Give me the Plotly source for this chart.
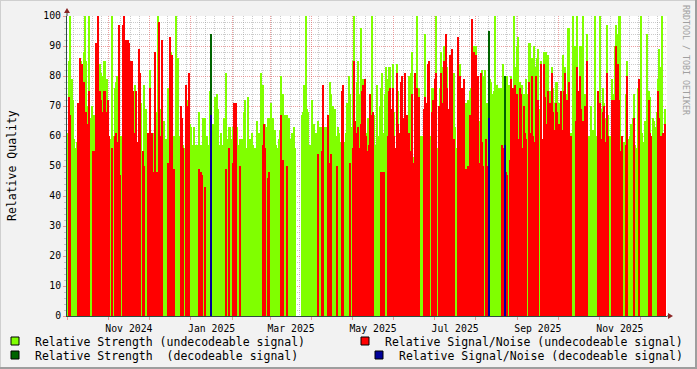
import pandas as pd
import plotly.graph_objects as go

# ---------------- data (one value per day, starting 2024-10-01) ----------------
START = "2024-10-01"
AXIS_DAYS = 446

# Relative Strength (undecodeable signal); None = no data
strength_undecodeable = [
    61, 85, 100, 79, 72, 59, 56, 58, 60, 70,
    85, 70, 88, 100, 85, 70, 100, 66, 70, 67,
    67, 67, 84, 60, 84, 81, 80, 85, 85, 79,
    70, 58, 59, 100, 60, 76, 78, 80, 80, 60,
    60, 60, 60, 60, 60, 92, 60, 77, 66, 60,
    77, 60, 58, 61, 60, 71, 50, 77, 69, 58,
    61, 82, 61, 61, 61, 60, 68, 100, 69, 69,
    60, 58, 65, 59, 58, 76, 76, 88, 60, 60,
    60, 100, 86, 60, 59, 66, 57, 56, 71, 72,
    60, 64, 63, 57, 63, 57, 57, 57, 68, 57,
    57, 66, 66, 56, 60, 57, 75, None, 64, 56,
    73, 74, 69, 57, 61, 57, 66, 57, 81, 59,
    63, 63, 59, 63, 71, 71, 63, 57, 59, 59,
    59, 68, 72, 56, 73, 57, 59, 61, 57, 56,
    56, 65, 61, 59, 81, 77, 64, 64, 63, 66,
    66, 71, 66, 66, 62, 57, 56, 59, 62, 80,
    74, 57, 67, 67, 56, 66, 59, 61, 63, 56,
    None, None, None, None, 67, 68, 77, 100, 69, 68,
    57, 56, 72, 64, 57, 61, 65, 61, 63, 63,
    68, 63, 63, 63, 67, 78, 74, 70, 63, 69,
    60, 63, 61, 58, 75, 77, 58, 61, 71, 80,
    74, 63, 85, 100, 61, 78, 85, 74, 96, 75,
    79, 61, 61, 66, 61, 57, 100, 67, 67, 57,
    77, 60, 70, 76, 81, 61, 74, 83, 79, 83,
    83, 68, 84, 68, 54, 84, 75, 61, 75, 76,
    50, 81, 56, 55, 80, 81, 88, 53, 54, 68,
    100, 76, 60, 60, 60, 69, 94, 71, 76, 68,
    60, 76, 76, 73, 100, 56, 50, 76, 88, 83,
    90, 70, 83, 50, 72, 76, 75, 81, 63, 56,
    56, 83, 84, 76, 72, 71, 71, 59, 72, 75,
    76, 90, 90, 63, 90, 54, 65, 60, 82, 80,
    82, 63, 71, None, 79, 78, 74, 75, 100, 77,
    71, 76, 76, 76, 84, None, 77, 80, 77, 74,
    80, 74, 100, 83, 90, 93, 78, 75, 77, 74,
    70, 79, 74, 91, 91, 86, 83, 90, 83, 86,
    89, 69, 85, 58, 88, 61, 88, 87, 72, 75,
    83, 76, 71, 78, 78, 71, 68, 75, 87, 77,
    83, 74, 96, 96, 61, 59, 100, 90, 73, 100,
    70, 90, 90, 100, 73, 74, 94, 60, 60, 70,
    62, 62, 100, 60, 74, 62, 100, 69, 76, 71,
    66, 97, 67, 60, 60, 79, 74, 90, 97, 94,
    100, 100, 60, 58, 58, 74, 85, 59, 60, 64,
    66, 74, 57, 56, 76, 60, 100, 61, 58, 65,
    65, 94, 75, 73, 58, 66, 65, 63, 68, 79,
    89, 83, 100, 61, 69,
]

# Relative Signal/Noise (undecodeable signal)
snr_undecodeable = [
    0, 73, 67, 0, 0, 0, 0, 0, 71, 86,
    80, 84, 78, 62, 68, 64, 75, 0, 0, 55,
    55, 91, 78, 100, 75, 72, 68, 75, 75, 68,
    72, 60, 0, 56, 0, 60, 61, 58, 97, 47,
    0, 97, 100, 92, 92, 92, 91, 85, 85, 75,
    61, 75, 58, 89, 81, 0, 55, 50, 0, 0,
    61, 76, 61, 61, 48, 88, 48, 48, 98, 60,
    92, 0, 0, 0, 0, 51, 93, 76, 87, 49,
    0, 0, 0, 0, 70, 66, 56, 0, 77, 70,
    81, 0, 0, 0, 0, 0, 0, 0, 49, 48,
    47, 0, 43, 0, 0, 0, 0, None, 0, 0,
    0, 0, 0, 0, 0, 0, 0, 0, 49, 0,
    56, 0, 0, 51, 71, 71, 0, 0, 50, 0,
    0, 0, 0, 0, 0, 0, 0, 0, 0, 0,
    0, 0, 0, 0, 0, 57, 64, 56, 0, 46,
    48, 0, 0, 0, 0, 0, 0, 0, 0, 67,
    52, 0, 0, 50, 0, 0, 0, 0, 0, 0,
    None, None, None, None, 0, 0, 0, 0, 0, 0,
    0, 0, 0, 0, 0, 0, 54, 0, 0, 55,
    77, 0, 0, 0, 67, 51, 54, 0, 0, 0,
    50, 0, 0, 0, 75, 77, 0, 0, 0, 0,
    51, 0, 56, 85, 65, 61, 63, 56, 64, 75,
    77, 79, 60, 55, 57, 74, 67, 68, 0, 0,
    0, 0, 0, 48, 48, 48, 0, 0, 60, 75,
    76, 69, 76, 60, 56, 81, 64, 61, 78, 80,
    66, 81, 67, 51, 61, 55, 74, 51, 81, 55,
    76, 73, 0, 0, 0, 69, 73, 71, 84, 85,
    0, 68, 72, 79, 81, 0, 70, 66, 81, 71,
    85, 94, 76, 69, 87, 81, 89, 59, 0, 0,
    93, 68, 80, 76, 55, 79, 49, 49, 50, 67,
    66, 99, 88, 0, 87, 80, 51, 81, 58, 50,
    0, 59, 50, None, 0, 0, 0, 0, 0, 0,
    0, 0, 0, 57, 56, None, 48, 47, 0, 52,
    79, 76, 0, 77, 74, 59, 76, 74, 56, 70,
    61, 59, 0, 78, 61, 80, 60, 58, 80, 61,
    72, 0, 84, 59, 84, 73, 64, 75, 68, 71,
    81, 68, 62, 71, 68, 64, 0, 75, 62, 75,
    81, 72, 67, 78, 60, 0, 0, 0, 65, 83,
    75, 80, 69, 65, 65, 70, 85, 0, 0, 0,
    0, 0, 0, 0, 75, 54, 71, 59, 68, 70,
    58, 81, 60, 0, 0, 72, 72, 67, 90, 84,
    72, 55, 60, 0, 0, 57, 80, 0, 0, 0,
    0, 66, 0, 0, 0, 79, 0, 0, 0, 0,
    0, 0, 72, 61, 60, 0, 0, 0, 0, 75,
    66, 60, 57, 61, 64,
]

# Days (index from START) on which the signal was decodeable
decodeable_day = [107, 313, 325]
strength_decodeable = [94, 95, 80]
snr_decodeable = [67, 66, 57]

tick_labels = ["Nov 2024", "Jan 2025", "Mar 2025", "May 2025",
               "Jul 2025", "Sep 2025", "Nov 2025"]
tick_label_dates = ["2024-11-16", "2025-01-16 12:00", "2025-03-16 12:00",
                    "2025-05-16 12:00", "2025-07-16 12:00", "2025-09-16",
                    "2025-11-16"]

legend_names = ["Relative Strength (undecodeable signal)",
                "Relative Signal/Noise (undecodeable signal)",
                "Relative Strength  (decodeable signal)",
                "Relative Signal/Noise (decodeable signal)"]

# ---------------- styling ----------------
GREEN, RED, DGREEN, BLUE = "#80FF00", "#FF0000", "#006400", "#000099"
FONT = "DejaVu Sans Mono"
W, H = 697, 369
L, R, T, B = 67, 30, 16, 53
PW, PH = W - L - R, H - T - B


def px(xp):
    return (xp - L) / PW


def py(yp):
    return (H - B - yp) / PH


start = pd.Timestamp(START)
day_ms = 86400000
dates = [start + pd.Timedelta(days=i, hours=12) for i in range(len(strength_undecodeable))]
dec_dates = [start + pd.Timedelta(days=d, hours=12) for d in decodeable_day]

fig = go.Figure()
fig.add_trace(go.Bar(x=dates, y=strength_undecodeable, width=day_ms,
                     marker=dict(color=GREEN, line=dict(width=0)),
                     showlegend=False, hoverinfo="x+y"))
fig.add_trace(go.Bar(x=dec_dates, y=strength_decodeable, width=day_ms,
                     marker=dict(color=DGREEN, line=dict(width=0)),
                     showlegend=False))
fig.add_trace(go.Bar(x=dates, y=snr_undecodeable, width=day_ms,
                     marker=dict(color=RED, line=dict(width=0)),
                     showlegend=False))
fig.add_trace(go.Bar(x=dec_dates, y=snr_decodeable, width=day_ms,
                     marker=dict(color=BLUE, line=dict(width=0)),
                     showlegend=False))

# legend-only entries (rrdtool style boxes)
for name, col, lg in zip(legend_names, [GREEN, RED, DGREEN, BLUE],
                         ["legend", "legend2", "legend3", "legend4"]):
    fig.add_trace(go.Scatter(x=[None], y=[None], mode="markers", name=name,
                             marker=dict(symbol="square", size=8, color=col,
                                         line=dict(color="#000000", width=1)),
                             legend=lg, showlegend=True))

# carrier for the label axis
fig.add_trace(go.Scatter(x=[None], y=[None], xaxis="x2", showlegend=False,
                         hoverinfo="skip"))

x_range = [start, start + pd.Timedelta(days=AXIS_DAYS)]
MGRID = "rgba(222,80,80,0.55)"
GRID = "rgba(140,140,140,0.45)"
AXIS = "#2C4D43"

fig.update_layout(
    width=W, height=H,
    margin=dict(l=L, r=R, t=T, b=B, autoexpand=False),
    paper_bgcolor="#F2F2F2", plot_bgcolor="#FFFFFF",
    barmode="overlay", bargap=0,
    font=dict(family=FONT, size=11.5, color="#000000"),
    xaxis=dict(type="date", range=x_range, dtick="M1", tick0="2024-10-01",
               showticklabels=False, ticks="outside", ticklen=3, tickcolor=MGRID,
               showgrid=True, gridcolor=MGRID, griddash="1px,1px", gridwidth=1,
               minor=dict(dtick=7 * day_ms, tick0="2024-10-06", showgrid=True,
                          gridcolor=GRID, griddash="1px,1px", ticks=""),
               showline=True, linecolor=AXIS, linewidth=1, zeroline=False,
               fixedrange=True),
    xaxis2=dict(type="date", range=x_range, overlaying="x", anchor="y", side="bottom",
                tickmode="array", tickvals=tick_label_dates, ticktext=tick_labels,
                showgrid=False, ticks="", showline=False, zeroline=False,
                tickfont=dict(family=FONT, size=9.8, color="#000000"),
                ticklabelstandoff=5, fixedrange=True),
    yaxis=dict(range=[0, 100], dtick=10, tick0=0, ticks="outside", ticklen=3,
               tickcolor=MGRID, showgrid=True, gridcolor=MGRID, griddash="1px,1px",
               minor=dict(dtick=2, showgrid=True, gridcolor=GRID, griddash="1px,1px",
                          ticks="outside", ticklen=2, tickcolor=GRID),
               showline=True, linecolor=AXIS, linewidth=1, zeroline=False,
               tickfont=dict(family=FONT, size=9.8, color="#000000"),
               ticklabelstandoff=0, fixedrange=True),
)

leg_common = dict(xanchor="left", yanchor="middle", bgcolor="rgba(0,0,0,0)",
                  borderwidth=0, font=dict(family=FONT, size=11.5, color="#000000"))
fig.update_layout(
    legend=dict(x=px(0), y=py(341), indentation=-5, **leg_common),
    legend2=dict(x=px(345), y=py(341), **leg_common),
    legend3=dict(x=px(0), y=py(355), indentation=-5, **leg_common),
    legend4=dict(x=px(359), y=py(355), **leg_common),
)

fig.add_annotation(text="Relative Quality", xref="paper", yref="paper",
                   x=px(12), y=py(166), textangle=-90, showarrow=False,
                   xanchor="center", yanchor="middle",
                   font=dict(family=FONT, size=11.5, color="#000000"))
fig.add_annotation(text="RRDTOOL / TOBI OETIKER", xref="paper", yref="paper",
                   x=px(686), y=py(60), textangle=90, showarrow=False,
                   xanchor="center", yanchor="middle",
                   font=dict(family=FONT, size=8.3, color="#A0A0A0"))

ARROW = "#8B2525"
shapes = [
    # 3D frame
    dict(type="line", x0=px(0), x1=px(W), y0=py(0.5), y1=py(0.5),
         line=dict(color="#CFCFCF", width=1)),
    dict(type="line", x0=px(0.5), x1=px(0.5), y0=py(0), y1=py(H),
         line=dict(color="#CFCFCF", width=1)),
    dict(type="line", x0=px(0), x1=px(W), y0=py(H - 1), y1=py(H - 1),
         line=dict(color="#9E9E9E", width=2)),
    dict(type="line", x0=px(W - 1), x1=px(W - 1), y0=py(0), y1=py(H),
         line=dict(color="#9E9E9E", width=2)),
    # axis extensions + arrows
    dict(type="line", x0=px(L), x1=px(L), y0=py(T), y1=py(11),
         line=dict(color=AXIS, width=1)),
    dict(type="line", x0=px(L + PW), x1=px(L + PW + 3), y0=py(H - B), y1=py(H - B),
         line=dict(color=AXIS, width=1)),
    dict(type="path",
         path=f"M {px(64)},{py(13)} L {px(70)},{py(13)} L {px(67)},{py(8)} Z",
         fillcolor=ARROW, line=dict(color=ARROW, width=0)),
    dict(type="path",
         path=f"M {px(668)},{py(313)} L {px(668)},{py(319)} L {px(673)},{py(316)} Z",
         fillcolor=ARROW, line=dict(color=ARROW, width=0)),
]
for s in shapes:
    s.update(xref="paper", yref="paper", layer="above")
fig.update_layout(shapes=shapes)

fig.write_html("out.html")
